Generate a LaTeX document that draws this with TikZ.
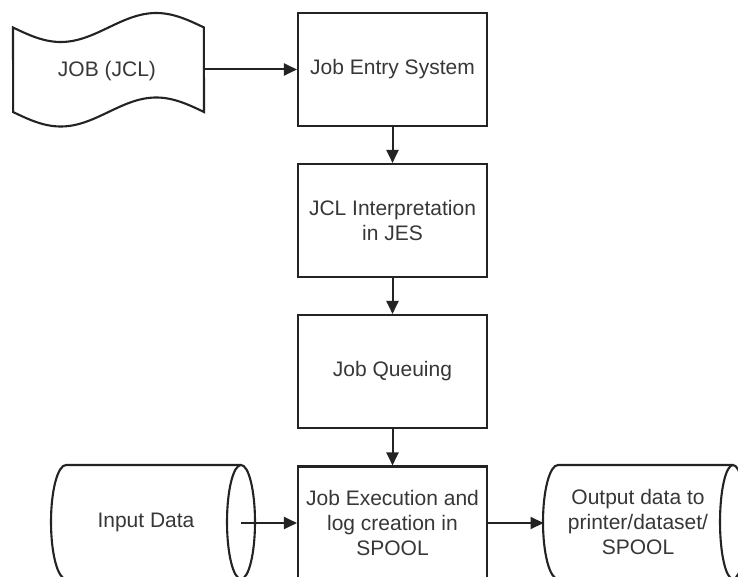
\documentclass[tikz,border=0pt]{standalone}
\usepackage{fontspec}
\setmainfont{Liberation Sans}
\usetikzlibrary{arrows.meta}
\definecolor{lineC}{RGB}{35,35,35}
\definecolor{textC}{RGB}{55,55,55}
\tikzset{
  boxnode/.style={draw=lineC, line width=2.1pt, rectangle, minimum width=189pt, minimum height=113pt, align=center, text=textC, font=\fontsize{21}{25}\selectfont},
  txt/.style={align=center, text=textC, font=\fontsize{21}{25}\selectfont},
  outline/.style={draw=lineC, line width=2.1pt, fill=white},
  arr/.style={draw=lineC, line width=2pt, -{Triangle[length=13pt,width=12pt]}}
}
\begin{document}
\begin{tikzpicture}[x=1pt,y=1pt]
\useasboundingbox (0,0) rectangle (738,-577);
\clip (0,0) rectangle (738,-577);
\fill[white] (0,0) rectangle (738,-577);
% JOB (JCL) punched tape shape
\draw[outline] plot[domain=0:1,samples=80,smooth] ({13+191*\x},{-27.5-14.5*sin(360*\x)})
  -- plot[domain=1:0,samples=80,smooth] ({13+191*\x},{-112-14.5*sin(360*\x)}) -- cycle;
\node[txt] (job) at (107,-71) {JOB (JCL)};
\coordinate (jobR) at (204,-69.5);
% boxes
\node[boxnode] (b1) at (392.5,-69.5) {Job Entry System};
\node[boxnode] (b2) at (392.5,-220.5) {JCL Interpretation\\in JES};
\node[boxnode] (b3) at (392.5,-371.5) {Job Queuing};
\node[boxnode] (b4) at (392.5,-523) {Job Execution and\\log creation in\\SPOOL};
% input cylinder
\draw[outline] (241,-465) -- (66,-465) arc[start angle=90, end angle=270, x radius=15, y radius=57] -- (241,-579);
\draw[outline] (241,-522) ellipse [x radius=14, y radius=57];
\node[txt] (input) at (146,-522) {Input Data};
\coordinate (inC) at (241,-523);
% output cylinder
\draw[outline] (733,-465) -- (558,-465) arc[start angle=90, end angle=270, x radius=15, y radius=57] -- (733,-579);
\draw[outline] (733,-522) ellipse [x radius=13, y radius=57];
\node[txt] (output) at (638,-522) {Output data to\\printer/dataset/\\SPOOL};
\coordinate (outL) at (543.5,-523);
% connectors
\draw[arr] (jobR) -- (b1.west);
\draw[arr] (b1.south) -- (b2.north);
\draw[arr] (b2.south) -- (b3.north);
\draw[arr] (b3.south) -- (b4.north);
\draw[arr] (inC) -- (b4.west);
\draw[arr] (b4.east) -- (outL);
\end{tikzpicture}
\end{document}
